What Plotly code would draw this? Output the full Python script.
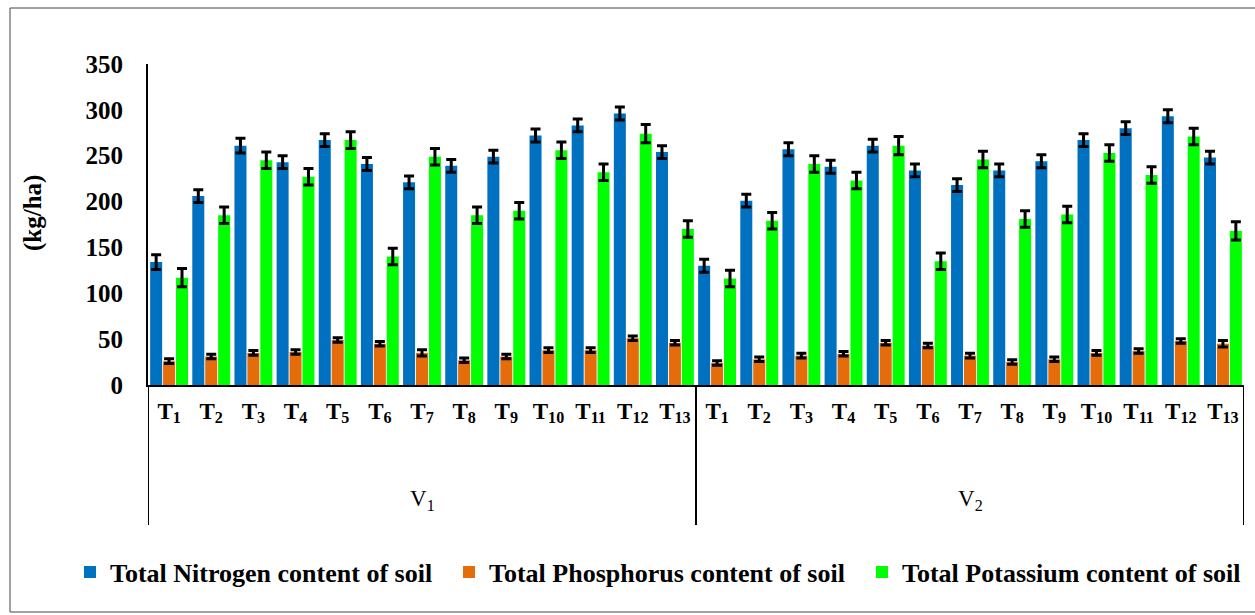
import plotly.graph_objects as go

treatments = ["T<sub>%d</sub>" % i for i in range(1, 14)]
varieties = ["V<sub>1</sub>", "V<sub>2</sub>"]

nitrogen_v1 = [134, 206, 261, 243, 267, 241, 221, 239, 249, 272, 283, 296, 254]
phosphorus_v1 = [26, 31, 35, 36, 49, 45, 35, 27, 31, 38, 38, 51, 46]
potassium_v1 = [117, 185, 245, 227, 267, 140, 249, 185, 190, 256, 232, 274, 170]
nitrogen_v2 = [130, 201, 257, 238, 261, 234, 218, 234, 244, 267, 280, 293, 248]
phosphorus_v2 = [24, 28, 32, 34, 46, 43, 32, 25, 28, 35, 37, 48, 45]
potassium_v2 = [116, 179, 241, 223, 261, 135, 246, 181, 186, 253, 229, 271, 168]

err_nitrogen = [8, 7, 8, 7, 7, 7, 7, 7, 7, 7, 7, 7, 7, 7, 7, 7, 7, 7, 7, 7, 7, 7, 7, 7, 7, 7]
err_phosphorus = [2.5, 2.5, 2.5, 2.5, 2.5, 2.5, 3.5, 2.5, 2.5, 2.5, 2.5, 2.5, 2.5,
                  2.5, 2.5, 2.5, 2.5, 2.5, 2.5, 2.5, 2.5, 2.5, 2.5, 2.5, 2.5, 3.5]
err_potassium = [10, 9, 9, 9, 9, 9, 9, 9, 9, 9, 9, 10, 9, 9, 9, 9, 9, 10, 9, 9, 9, 9, 9, 9, 9, 10]

series_names = ["Total Nitrogen content of soil", "Total Phosphorus content of soil",
                "Total Potassium content of soil"]
colors = ["#0070C0", "#E46C0A", "#00FF00"]

cats = ["%s-%s" % (v, t) for v in varieties for t in treatments]
tick_text = treatments + treatments

values = [nitrogen_v1 + nitrogen_v2, phosphorus_v1 + phosphorus_v2, potassium_v1 + potassium_v2]
errors = [err_nitrogen, err_phosphorus, err_potassium]

FONT = "Liberation Serif, Times New Roman, serif"
W, H = 1255, 615
legend_ids = ["legend", "legend2", "legend3"]
legend_text_start = [114, 493, 906]

fig = go.Figure()
for name, col, vals, errs, lid in zip(series_names, colors, values, errors, legend_ids):
    fig.add_trace(go.Bar(
        x=cats, y=vals, name="<b>%s</b>" % name, legend=lid,
        marker=dict(color=col, line=dict(width=0)),
        error_y=dict(type="data", array=errs, visible=True, color="black", thickness=3, width=5),
    ))

L, R, T, B = 148, 11, 64, 230
pw = W - L - R
ph = H - T - B

def px_x(p):
    return (p - L) / pw

def px_y(p):
    return (H - B - p) / ph

shapes = []
for xv in [-0.5, 12.5, 25.5]:
    shapes.append(dict(type="line", xref="x", yref="paper", x0=xv, x1=xv,
                       y0=0, y1=px_y(525), line=dict(color="black", width=2)))
shapes.append(dict(type="rect", xref="paper", yref="paper",
                   x0=px_x(10), x1=px_x(1262), y0=px_y(612), y1=px_y(8),
                   line=dict(color="#444", width=1)))

annotations = [
    dict(text="<b>(kg/ha)</b>", textangle=-90, xref="paper", yref="paper",
         x=px_x(33), y=px_y(213), xanchor="center", yanchor="middle", showarrow=False,
         font=dict(family=FONT, size=25, color="black")),
]
for i, v in enumerate(varieties):
    annotations.append(dict(text=v, xref="x", yref="paper", x=6 + 13 * i, y=px_y(500),
                            xanchor="center", yanchor="middle", showarrow=False,
                            font=dict(family=FONT, size=23, color="black")))

legend_common = dict(orientation="h", xref="container", yref="container", xanchor="left",
                     yanchor="middle", y=1 - 572 / H, bgcolor="rgba(0,0,0,0)",
                     font=dict(family=FONT, size=26, color="black"), itemwidth=30)
legends = {}
for lid, ts in zip(legend_ids, legend_text_start):
    legends[lid] = dict(legend_common, x=(ts - 44) / W)

fig.update_layout(
    width=W, height=H,
    font=dict(family=FONT, color="black"),
    margin=dict(l=L, r=R, t=T, b=B, autoexpand=False),
    paper_bgcolor="white", plot_bgcolor="white",
    barmode="group", bargap=0.08, bargroupgap=0.07,
    showlegend=True,
    xaxis=dict(type="category", categoryarray=cats, tickvals=cats, ticktext=tick_text,
               range=[-0.5, 25.5], showline=True, linecolor="black", linewidth=2,
               ticks="", showgrid=False, zeroline=False, tickangle=0, ticklabelstandoff=4,
               tickfont=dict(family=FONT, size=23, color="black", weight="bold")),
    yaxis=dict(range=[0, 350], dtick=50, showline=True, linecolor="black", linewidth=2,
               ticks="", showgrid=False, zeroline=False, ticklabelstandoff=18,
               tickfont=dict(family=FONT, size=25, color="black", weight="bold")),
    shapes=shapes, annotations=annotations,
    **legends,
)

fig.write_html("out.html")
